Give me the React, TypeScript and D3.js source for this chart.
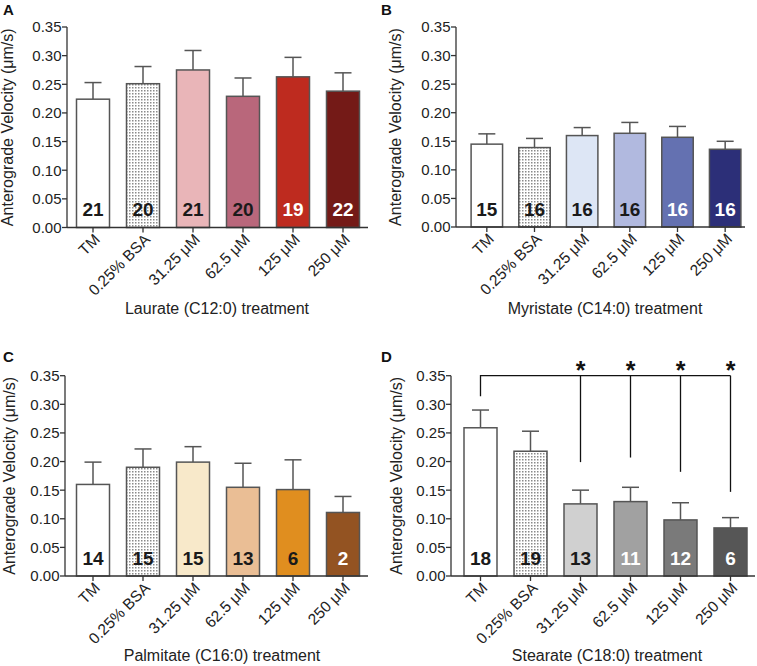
import React from "react";
import * as d3 from "d3";

const categories = ["TM", "0.25% BSA", "31.25 μM", "62.5 μM", "125 μM", "250 μM"];
const yTicks = [0, 0.05, 0.1, 0.15, 0.2, 0.25, 0.3, 0.35];

const laurateMean = [0.224, 0.251, 0.275, 0.229, 0.263, 0.238];
const laurateUpper = [0.253, 0.281, 0.309, 0.261, 0.297, 0.270];
const laurateN = [21, 20, 21, 20, 19, 22];

const myristateMean = [0.145, 0.139, 0.160, 0.164, 0.157, 0.136];
const myristateUpper = [0.163, 0.155, 0.174, 0.183, 0.176, 0.150];
const myristateN = [15, 16, 16, 16, 16, 16];

const palmitateMean = [0.160, 0.190, 0.199, 0.155, 0.151, 0.111];
const palmitateUpper = [0.199, 0.222, 0.226, 0.197, 0.203, 0.139];
const palmitateN = [14, 15, 15, 13, 6, 2];

const stearateMean = [0.259, 0.218, 0.126, 0.130, 0.098, 0.084];
const stearateUpper = [0.290, 0.253, 0.150, 0.155, 0.128, 0.102];
const stearateN = [18, 19, 13, 11, 12, 6];

// significance bracket for Stearate (TM vs each dose)
const sigLevel = 0.35;
const sigRefDrop = 0.314;
const sigTargets = [2, 3, 4, 5];
const sigDrops = [0.199, 0.207, 0.182, 0.147];

const panels = [
  {
    letter: "A", title: "Laurate (C12:0) treatment",
    mean: laurateMean, upper: laurateUpper, n: laurateN,
    fills: ["#ffffff", "url(#dots)", "#e9b5b8", "#b9677b", "#be2b1f", "#741a17"],
    textCol: ["#1a1a1a", "#1a1a1a", "#1a1a1a", "#1a1a1a", "#ffffff", "#ffffff"],
    L: { axisX: 67, x0: 68, x1: 368, axisEnd: 368, top: 27, bottom: 227.5, lx: 3, ly: 15, ylx: 13, tx: 217, ty: 314 },
  },
  {
    letter: "B", title: "Myristate (C14:0) treatment",
    mean: myristateMean, upper: myristateUpper, n: myristateN,
    fills: ["#ffffff", "url(#dots)", "#dde6f5", "#b1b9df", "#6471b1", "#2c2f78"],
    textCol: ["#1a1a1a", "#1a1a1a", "#1a1a1a", "#1a1a1a", "#ffffff", "#ffffff"],
    L: { axisX: 456, x0: 463, x1: 749, axisEnd: 745, top: 27, bottom: 227, lx: 381, ly: 15, ylx: 401, tx: 605, ty: 314 },
  },
  {
    letter: "C", title: "Palmitate (C16:0) treatment",
    mean: palmitateMean, upper: palmitateUpper, n: palmitateN,
    fills: ["#ffffff", "url(#dots)", "#f8e9ca", "#eabe95", "#e08e1f", "#935322"],
    textCol: ["#1a1a1a", "#1a1a1a", "#1a1a1a", "#1a1a1a", "#1a1a1a", "#ffffff"],
    L: { axisX: 65, x0: 68, x1: 368, axisEnd: 368, top: 375.7, bottom: 576, lx: 3, ly: 362, ylx: 15, tx: 222, ty: 661 },
  },
  {
    letter: "D", title: "Stearate (C18:0) treatment",
    mean: stearateMean, upper: stearateUpper, n: stearateN,
    fills: ["#ffffff", "url(#dots)", "#d0d0d0", "#a1a1a1", "#7a7a7a", "#565656"],
    textCol: ["#1a1a1a", "#1a1a1a", "#1a1a1a", "#ffffff", "#ffffff", "#ffffff"],
    L: { axisX: 451, x0: 455.5, x1: 755.5, axisEnd: 755, top: 375.7, bottom: 576, lx: 381, ly: 362, ylx: 402, tx: 607, ty: 661 },
    sig: true,
  },
];

const FONT = "'Liberation Sans', Arial, Helvetica, sans-serif";
const AX = "#333333";
const BAR_STROKE = "#555555";

function Panel({ p }: { p: any }) {
  const L = p.L;
  const x = d3.scaleBand<string>().domain(categories).range([L.x0, L.x1]).paddingInner(0.34).paddingOuter(0.17);
  const y = d3.scaleLinear().domain([0, 0.35]).range([L.bottom, L.top]);
  const bw = x.bandwidth();
  const cx = (c: string) => (x(c) as number) + bw / 2;
  return (
    <g>
      <text x={L.lx} y={L.ly} fontFamily={FONT} fontWeight="bold" fontSize={15} fill="#111">{p.letter}</text>
      {categories.map((c, i) => (
        <g key={c}>
          <line x1={cx(c)} x2={cx(c)} y1={y(p.mean[i])} y2={y(p.upper[i])} stroke={BAR_STROKE} strokeWidth={1.5} />
          <line x1={cx(c) - 8.5} x2={cx(c) + 8.5} y1={y(p.upper[i])} y2={y(p.upper[i])} stroke={BAR_STROKE} strokeWidth={1.5} />
          <rect x={x(c)} y={y(p.mean[i])} width={bw} height={L.bottom - y(p.mean[i])} fill={p.fills[i]} stroke={BAR_STROKE} strokeWidth={1.5} />
          <text x={cx(c)} y={L.bottom - 11.3} textAnchor="middle" fontFamily={FONT} fontWeight="bold" fontSize={19} fill={p.textCol[i]}>{p.n[i]}</text>
        </g>
      ))}
      <line x1={L.axisX} x2={L.axisX} y1={L.top} y2={L.bottom} stroke={AX} strokeWidth={1.3} />
      {yTicks.map((t) => (
        <g key={t}>
          <line x1={L.axisX - 5} x2={L.axisX} y1={y(t)} y2={y(t)} stroke={AX} strokeWidth={1.3} />
          <text x={L.axisX - 5.5} y={y(t)} dy="0.36em" textAnchor="end" fontFamily={FONT} fontSize={15} fill="#222">{t.toFixed(2)}</text>
        </g>
      ))}
      <line x1={L.axisX} x2={L.axisEnd} y1={L.bottom} y2={L.bottom} stroke={AX} strokeWidth={1.3} />
      {categories.map((c) => (
        <g key={c}>
          <line x1={cx(c)} x2={cx(c)} y1={L.bottom} y2={L.bottom + 5} stroke={AX} strokeWidth={1.3} />
          <text transform={`translate(${cx(c) + 4},${L.bottom + 9}) rotate(-45)`} dy="0.36em" textAnchor="end" fontFamily={FONT} fontSize={15.5} fill="#222">{c}</text>
        </g>
      ))}
      <text transform={`translate(${L.ylx},${(L.top + L.bottom) / 2}) rotate(-90)`} textAnchor="middle" fontFamily={FONT} fontSize={16} fill="#222">Anterograde Velocity (μm/s)</text>
      <text x={L.tx} y={L.ty} textAnchor="middle" fontFamily={FONT} fontSize={16} fill="#222">{p.title}</text>
      {p.sig && (
        <g>
          <path
            d={`M${cx(categories[0])},${y(sigRefDrop)}V${y(sigLevel)}H${cx(categories[sigTargets[sigTargets.length - 1]])}`}
            fill="none" stroke="#111" strokeWidth={1.3} />
          {sigTargets.map((ti, k) => (
            <g key={ti}>
              <line x1={cx(categories[ti])} x2={cx(categories[ti])} y1={y(sigLevel)} y2={y(sigDrops[k])} stroke="#111" strokeWidth={1.3} />
              <text x={cx(categories[ti])} y={y(sigLevel) + 3} textAnchor="middle" fontFamily={FONT} fontWeight="bold" fontSize={25} fill="#111">*</text>
            </g>
          ))}
        </g>
      )}
    </g>
  );
}

export default function App() {
  return (
    <svg width={757} height={666} style={{ position: "absolute", left: 0, top: 0, background: "#fff" }}>
      <defs>
        <pattern id="dots" width={3} height={3} patternUnits="userSpaceOnUse">
          <rect width={3} height={3} fill="#ffffff" />
          <rect width={1.5} height={1.5} fill="#8a8a8a" />
        </pattern>
      </defs>
      <rect width={757} height={666} fill="#fff" />
      {panels.map((p) => <Panel key={p.letter} p={p} />)}
    </svg>
  );
}
